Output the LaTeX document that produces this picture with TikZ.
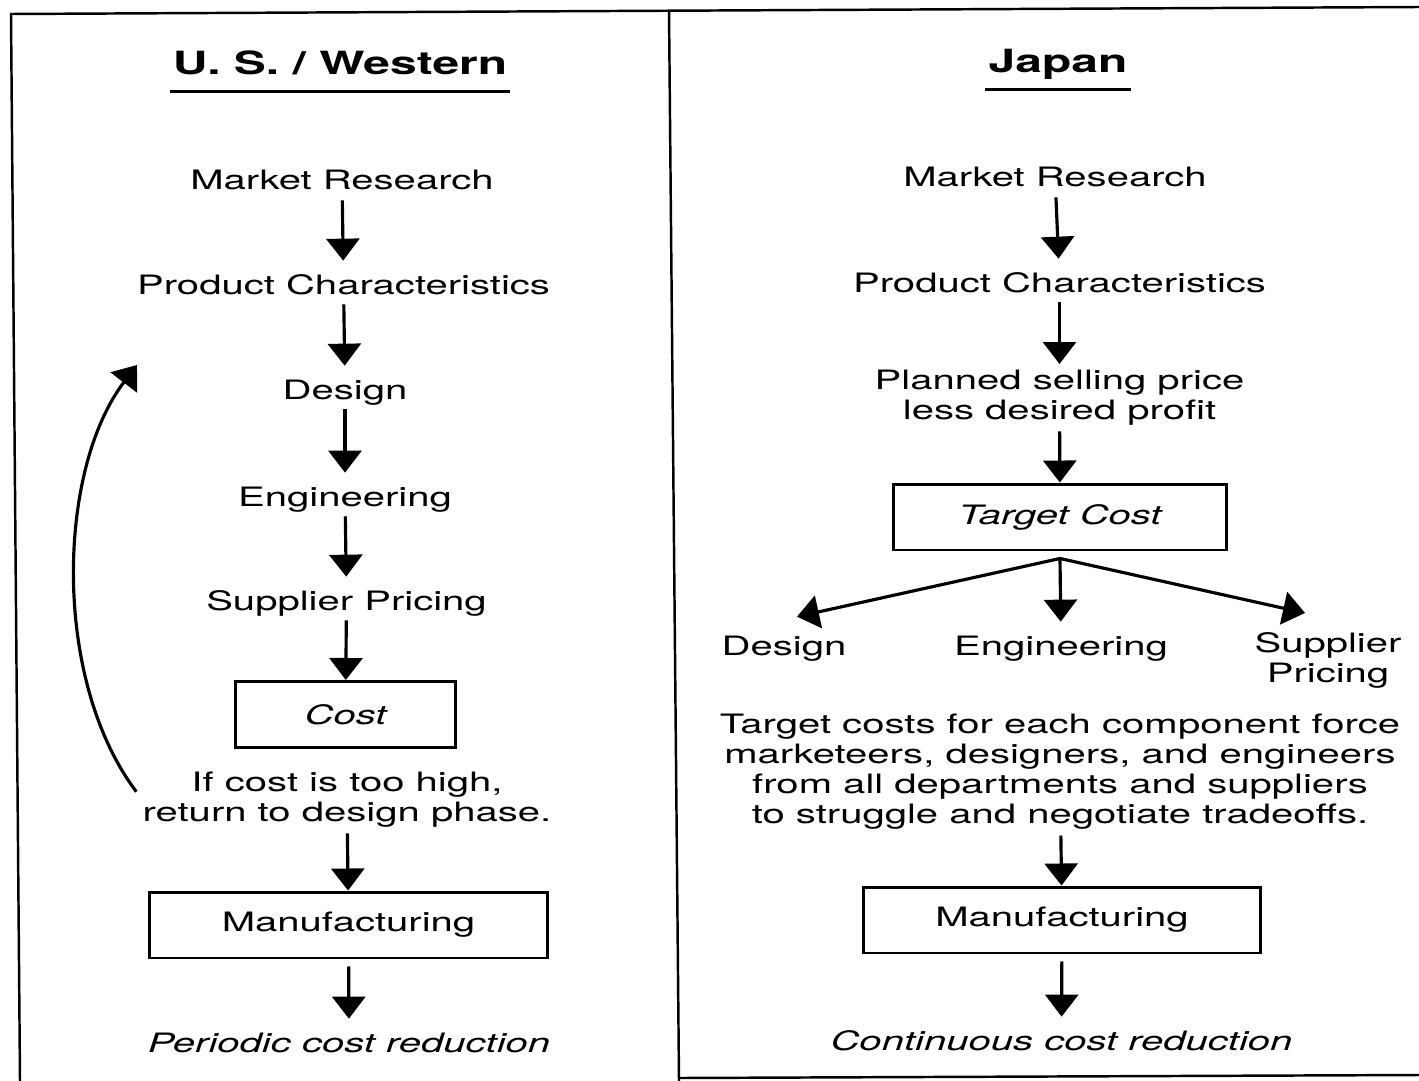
\documentclass[tikz,border=0pt]{standalone}
\usepackage{fontspec}
\setmainfont{TeX Gyre Heros}[FakeStretch=1.5]
\usepackage{tikz}
\usetikzlibrary{arrows.meta,positioning}

\tikzset{
  lbl/.style={inner sep=0pt, text height=0.66cm, text depth=0.2cm, anchor=base},
  multi/.style={inner sep=0pt, outer ysep=0.12cm, align=center, anchor=north},
  box/.style={draw, line width=1.7pt, inner sep=0pt, minimum height=1.32cm},
  flow/.style={->, line width=1.8pt},
  headline/.style={font=\fontsize{18.2}{22}\selectfont\bfseries, inner sep=0pt, inner xsep=0.06cm, text depth=0.32cm, anchor=base},
  rule/.style={line width=1.5pt},
  frame/.style={line width=1.4pt}
}

\begin{document}
\begin{tikzpicture}[>={Triangle[width=0.66cm,length=0.44cm]}, x=0.02cm, y=-0.02cm, font=\fontsize{15.2}{17.1}\selectfont]
\useasboundingbox (0,0) rectangle (1419,1081);

% frame
\draw[frame] (20,1081) -- (11,14) -- (1419,7);
\draw[frame] (669,11) -- (679,1081);
\draw[frame] (679,1078) -- (1419,1075);

% U.S. / Western
\node[headline] (ustitle) at (340,75) {U. S. / Western};
\draw[rule] (ustitle.south west) -- (ustitle.south east);
\node[lbl] (lmr) at (342,190) {Market Research};
\node[lbl] (lpc) at (343.5,294) {Product Characteristics};
\node[lbl] (ldes) at (345,399) {Design};
\node[lbl] (leng) at (345,506) {Engineering};
\node[lbl] (lsup) at (346.5,610) {Supplier Pricing};
\node[box,minimum width=4.42cm] (lcost) at (345.5,714.5) {\itshape Cost};
\node[multi] (lhigh) at (347,766) {If cost is too high,\\return to design phase.};
\node[box,minimum width=7.98cm] (lmfg) at (348.5,925) {Manufacturing};
\node[lbl] (lred) at (349,1052) {\itshape Periodic cost reduction};
\coordinate (lback) at (137,365);

\draw[flow] (lmr) -- (lpc);
\draw[flow] (lpc) -- (ldes);
\draw[flow] (ldes) -- (leng);
\draw[flow] (leng) -- (lsup);
\draw[flow] (lsup) -- (lcost);
\draw[flow] (lhigh) -- (lmfg);
\draw[flow,shorten <=0.14cm] (lmfg) -- (lred);
\draw[flow,shorten <=0.2cm] (lhigh.west) .. controls (52,680) and (57,470) .. (lback);

% Japan
\node[headline] (jptitle) at (1058,73) {Japan};
\draw[rule] (jptitle.south west) -- (jptitle.south east);
\node[lbl] (jmr) at (1055,187) {Market Research};
\node[lbl] (jpc) at (1059.5,292) {Product Characteristics};
\node[multi] (jprice) at (1059.5,364) {Planned selling price\\less desired profit};
\node[box,minimum width=6.68cm] (jtc) at (1060,517) {\itshape Target Cost};
\coordinate (jfan) at ([yshift=-0.14cm]jtc.south);
\node[lbl] (jdes) at (784,655) {Design};
\node[lbl] (jeng) at (1061,655) {Engineering};
\node[multi] (jsup) at (1328,627) {Supplier\\Pricing};
\node[multi] (jtext) at (1060,708) {Target costs for each component force\\marketeers, designers, and engineers\\from all departments and suppliers\\to struggle and negotiate tradeoffs.};
\node[box,minimum width=7.96cm] (rmfg) at (1062,920) {Manufacturing};
\node[lbl] (jred) at (1061.5,1050) {\itshape Continuous cost reduction};

\draw[flow] (jmr) -- (jpc);
\draw[flow] (jpc) -- (jprice);
\draw[flow] (jprice) -- (jtc);
\draw[flow] (jfan) -- ([shift={(13,-5)}]jdes.north);
\draw[flow] (jfan) -- (jeng);
\draw[flow] (jfan) -- ([shift={(-23,-14)}]jsup.north);
\draw[flow] (jtext) -- (rmfg);
\draw[flow,shorten <=0.14cm] (rmfg) -- (jred);
\end{tikzpicture}
\end{document}
